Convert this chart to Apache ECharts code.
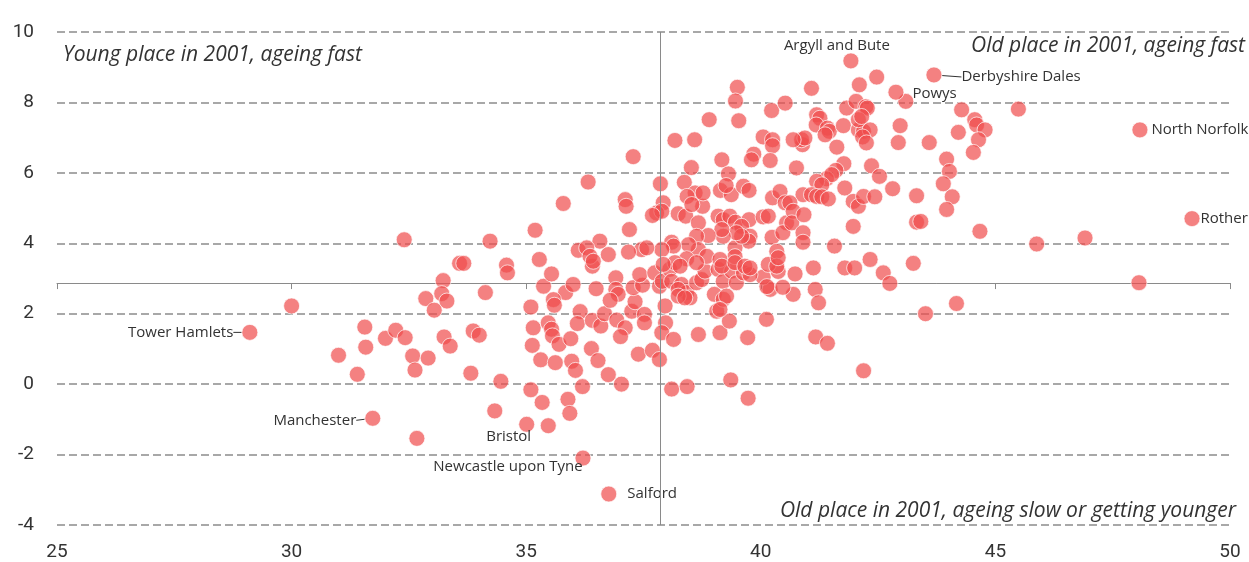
<!DOCTYPE html>
<html>
<head>
<meta charset="utf-8">
<script src="https://cdn.jsdelivr.net/npm/echarts@6/dist/echarts.min.js"></script>
<style>
html,body{margin:0;padding:0;background:#fff;}
#chart{width:1249px;height:562px;}
</style>
</head>
<body>
<div id="chart"></div>
<script>
// Median age in 2001 (x) vs change in median age (y)
const xTicks = [25, 30, 35, 40, 45, 50];
const yTicks = [-4, -2, 0, 2, 4, 6, 8, 10];
const medianAge2001 = 37.85;   // vertical reference line
const medianChange = 2.87;     // horizontal reference axis

const labelledPlaces = [
  ['Argyll and Bute', 41.92, 9.18],
  ['Derbyshire Dales', 43.69, 8.78],
  ['Powys', 42.88, 8.29],
  ['North Norfolk', 48.08, 7.22],
  ['Rother', 49.19, 4.70],
  ['Tower Hamlets', 29.11, 1.47],
  ['Manchester', 31.73, -0.97],
  ['Bristol', 35.01, -1.14],
  ['Newcastle upon Tyne', 36.21, -2.10],
  ['Salford', 36.76, -3.12]
];

const otherPlaces = [
[30.0,2.22],[31.56,1.62],[31.58,1.05],[31.0,0.82],[31.4,0.28],[32.0,1.3],[32.22,1.53],[32.42,1.32],[32.58,0.8],[32.63,0.4],
[32.67,-1.54],[33.23,2.94],[33.2,2.57],[32.86,2.43],[33.31,2.36],[33.04,2.1],[34.13,2.6],[32.4,4.1],[34.23,4.06],[35.19,4.37],
[33.58,3.43],[33.67,3.43],[34.58,3.38],[35.28,3.54],[34.6,3.16],[35.37,2.78],[35.1,2.19],[32.91,0.74],[33.25,1.34],[33.38,1.08],
[33.87,1.51],[34.0,1.39],[33.82,0.31],[34.46,0.08],[35.1,-0.16],[35.34,-0.52],[34.33,-0.76],[35.47,-1.18],[35.15,1.6],[35.13,1.1],
[35.31,0.69],
[35.84,2.6],[35.58,2.4],[35.6,2.24],[36.0,2.83],[36.49,2.71],[35.47,1.74],[35.54,1.56],[35.56,1.37],[35.7,1.13],[35.62,0.61],
[35.95,1.29],[36.15,2.06],[36.09,1.72],[36.41,1.81],[36.59,1.65],[36.67,2.0],[36.39,1.01],[36.53,0.67],[35.97,0.65],[36.05,0.39],
[36.75,0.27],[37.03,0.0],[36.2,-0.07],[35.89,-0.43],[35.93,-0.83],[36.93,1.82],[37.11,1.6],[37.01,1.35],[37.39,0.85],[37.69,0.96],
[37.84,0.7],[37.96,2.22],[37.97,1.74],[37.89,1.46],[38.14,1.27],[38.1,-0.14],[38.43,-0.07],[38.67,1.41],[39.13,1.46],[39.33,1.79],
[39.06,2.07],[39.01,2.55],[39.72,1.32],[40.12,1.84],[39.36,0.12],[39.73,-0.4],[40.69,2.55],[40.2,2.69],[35.54,3.13],[36.41,3.35],
[36.91,3.02],[36.91,2.69],[36.96,2.55],[36.79,2.38],[37.25,2.07],[37.32,2.34],[37.28,2.74],[37.48,2.81],[37.42,3.11],[37.74,3.16],
[37.52,1.98],[37.52,1.74],[37.84,2.78],[37.9,2.92],[40.37,3.2],[40.05,3.04],
[38.06,3.26],[38.1,2.92],[38.31,2.83],[38.42,2.6],[38.24,2.69],[38.49,2.45],[38.63,2.88],[38.74,2.97],[38.81,3.21],[39.09,3.26],
[39.2,2.92],[39.38,3.21],[39.48,2.88],[39.63,3.16],[39.77,3.11],[39.2,2.41],[39.27,2.5],[40.13,2.77],[40.47,2.75],[38.24,2.5],
[38.38,2.45],[39.13,2.12],
[39.5,8.43],[39.46,8.04],[39.53,7.48],[38.9,7.51],[38.17,6.92],[38.59,6.94],[40.23,7.77],[40.52,7.98],[40.05,7.02],[40.25,6.94],
[40.25,6.77],[39.85,6.53],[39.8,6.37],[40.2,6.35],[39.17,6.37],[39.31,5.97],[38.52,6.15],[37.28,6.46],[36.32,5.74],[35.79,5.13],
[37.86,5.69],[38.37,5.73],[38.6,5.43],[38.76,5.05],[39.14,5.5],[39.37,5.38],[39.63,5.62],[39.75,5.5],[38.77,5.43],[38.43,5.33],
[38.24,4.84],[38.4,4.77],[37.92,5.15],[37.11,5.24],[37.13,5.05],[37.2,4.39],[37.78,4.86],[37.89,4.91],[37.69,4.79],[38.67,4.58],
[39.09,4.77],[39.2,4.67],[39.34,4.77],[39.46,4.6],[39.75,4.67],[39.59,4.48],[40.05,4.75],[40.16,4.77],[40.25,5.29],[40.41,5.47],
[40.52,5.15],[40.24,4.17],[40.34,3.77],[39.77,4.2],[39.74,4.06],[39.45,3.87],[39.45,3.62],[39.59,4.2],[39.48,4.3],[39.2,4.2],
[39.17,4.39],[38.88,4.22],[38.63,4.2],[38.67,3.82],[38.85,3.63],[38.46,3.96],[38.42,3.56],[38.1,4.03],[38.14,3.92],[37.89,3.82],
[37.46,3.82],[37.57,3.87],[37.18,3.75],[36.75,3.68],[36.57,4.06],[36.11,3.8],[36.29,3.87],[36.36,3.63],[36.43,3.49],[39.13,3.54],
[39.17,3.35],[39.45,3.45],[39.66,3.35],[39.77,3.3],[40.16,3.4],[40.34,3.35],[40.37,3.59],[40.55,4.58],[40.47,4.3],[38.63,3.45],
[38.17,3.45],[38.28,3.35],[37.92,3.4],[39.26,5.64],[38.53,5.1],[40.89,6.8],
[41.08,8.4],[42.1,8.5],[42.47,8.72],[43.09,8.03],[41.83,7.84],[42.03,8.03],[42.24,7.88],[42.27,7.84],[41.19,7.65],[41.26,7.55],
[41.18,7.36],[41.42,7.27],[41.46,7.18],[41.37,7.08],[41.76,7.34],[42.08,7.22],[42.19,7.18],[42.33,7.22],[42.17,7.02],[42.25,6.85],
[42.08,7.51],[42.15,7.6],[40.87,6.94],[40.94,6.99],[40.69,6.94],[41.62,6.73],[42.97,7.34],[42.93,6.86],[43.59,6.86],[44.28,7.79],
[44.56,7.51],[44.6,7.36],[44.78,7.22],[44.21,7.15],[44.64,6.94],[44.53,6.58],[45.49,7.81],[43.96,6.39],[44.02,6.04],[43.89,5.69],
[44.08,5.32],[43.96,4.96],[43.32,5.35],[43.32,4.6],[43.41,4.62],[44.67,4.34],[42.36,6.2],[42.53,5.9],[42.81,5.55],[41.77,6.26],
[41.6,6.07],[41.4,5.83],[41.51,5.95],[41.19,5.76],[41.3,5.66],[41.79,5.57],[40.76,6.14],[40.9,5.38],[41.08,5.38],[41.19,5.33],
[41.3,5.32],[41.44,5.26],[40.62,5.15],[40.69,4.91],[40.66,4.58],[40.92,4.81],[40.9,4.3],[40.9,4.03],[41.97,5.19],[42.08,5.05],
[42.19,5.33],[42.43,5.32],[41.97,4.48],[41.57,3.92],[42.33,3.54],[43.25,3.43],[41.12,3.3],[41.79,3.3],[42.0,3.3],
[40.73,3.13],[42.61,3.16],[42.75,2.86],[41.16,2.69],[41.23,2.31],[41.17,1.34],[41.42,1.16],[42.19,0.38],[43.51,2.0],[44.17,2.29],
[48.06,2.88],[45.88,3.98],[46.91,4.15]
];

const quadrantTexts = [
  'Young place in 2001, ageing fast',
  'Old place in 2001, ageing fast',
  'Old place in 2001, ageing slow or getting younger'
];

// label styling per named place (pixel nudges)
const labelStyle = {
  'Argyll and Bute': {position: 'top', distance: 1, dx: -14, dy: 2},
  'Derbyshire Dales': {position: 'right', distance: 2, dx: 17, dy: 2, line: true},
  'Powys': {position: 'right', distance: 8, dy: 2},
  'North Norfolk': {position: 'right', distance: 3},
  'Rother': {position: 'right', distance: 0},
  'Tower Hamlets': {position: 'left', distance: 2, dx: -6, line: true},
  'Manchester': {position: 'left', distance: 2, dx: -6, dy: 2, line: true},
  'Bristol': {position: 'bottom', distance: 0, dx: -18, dy: -4},
  'Newcastle upon Tyne': {position: 'bottom', distance: 0, dx: -75, dy: -7},
  'Salford': {position: 'right', distance: 10}
};

const FONT = 'Roboto, "Noto Sans", sans-serif';
const TFONT = '"Open Sans", Roboto, sans-serif';
const chart = echarts.init(document.getElementById('chart'), null, {renderer: 'canvas'});

const data = otherPlaces.map(p => ({value: p}));
labelledPlaces.forEach(([name, x, y]) => {
  const s = labelStyle[name];
  data.push({
    name: name,
    value: [x, y],
    label: {
      show: true,
      formatter: name,
      position: s.position,
      distance: s.distance,
      fontFamily: TFONT,
      fontSize: 15,
      color: '#333',
      opacity: 1
    },
    labelLine: {show: !!s.line, length2: 0, lineStyle: {color: '#333', width: 1, opacity: 1}}
  });
});

const option = {
  animation: false,
  backgroundColor: '#fff',
  grid: {left: 57, right: 19, top: 32, bottom: 36, containLabel: false},
  xAxis: [{
    type: 'value', min: xTicks[0], max: xTicks[xTicks.length - 1], interval: 5,
    axisLine: {show: false}, axisTick: {show: false}, splitLine: {show: false},
    axisLabel: {fontFamily: FONT, fontSize: 19, color: '#333', margin: 18}
  }, {
    type: 'value', min: xTicks[0], max: xTicks[xTicks.length - 1], interval: 5,
    position: 'bottom',
    axisLine: {show: true, onZero: true, onZeroAxisIndex: 1, lineStyle: {color: '#8a8a8a', width: 1}},
    axisTick: {show: true, length: 6, lineStyle: {color: '#8a8a8a', width: 1}},
    axisLabel: {show: false}, splitLine: {show: false}
  }],
  yAxis: [{
    type: 'value', min: yTicks[0], max: yTicks[yTicks.length - 1], interval: 2,
    axisLine: {show: false}, axisTick: {show: false},
    axisLabel: {fontFamily: FONT, fontSize: 19, color: '#333', margin: 23},
    splitLine: {show: true, lineStyle: {color: '#a8a8a8', width: 2, type: [8, 4]}}
  }, {
    type: 'value', min: yTicks[0] - medianChange, max: yTicks[yTicks.length - 1] - medianChange,
    show: false, splitLine: {show: false}
  }],
  graphic: [
    {type: 'text', x: 63, y: 55, z: 10, style: {text: quadrantTexts[0], font: 'italic 21px ' + TFONT, fill: '#333', textAlign: 'left', textVerticalAlign: 'middle'}},
    {type: 'text', x: 1245, y: 46, z: 10, style: {text: quadrantTexts[1], font: 'italic 21px ' + TFONT, fill: '#333', textAlign: 'right', textVerticalAlign: 'middle'}},
    {type: 'text', x: 1236, y: 511, z: 10, style: {text: quadrantTexts[2], font: 'italic 21px ' + TFONT, fill: '#333', textAlign: 'right', textVerticalAlign: 'middle'}}
  ],
  series: [{
    type: 'scatter', xAxisIndex: 0, yAxisIndex: 0, z: 1, data: [],
    silent: true,
    markLine: {
      silent: true, symbol: 'none', label: {show: false},
      lineStyle: {color: '#8a8a8a', width: 1, type: 'solid'},
      data: [{xAxis: medianAge2001}]
    }
  }, {
    type: 'scatter', xAxisIndex: 0, yAxisIndex: 0, z: 3,
    symbolSize: 16,
    itemStyle: {color: '#ef4b4b', opacity: 0.7, borderColor: '#fff', borderWidth: 1},
    data: data,
    labelLayout: function (params) {
      const d = data[params.dataIndex];
      if (!d || !d.name) return {};
      const s = labelStyle[d.name];
      return {dx: s.dx || 0, dy: s.dy || 0};
    }
  }]
};
chart.setOption(option);
</script>
</body>
</html>
